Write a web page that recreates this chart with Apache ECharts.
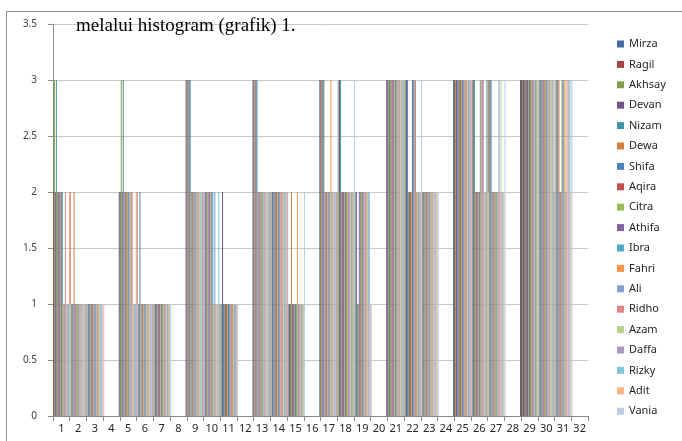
<!DOCTYPE html>
<html>
<head>
<meta charset="utf-8">
<script src="https://cdn.jsdelivr.net/npm/echarts@6/dist/echarts.min.js"></script>
<style>
  html, body { margin: 0; padding: 0; background: #fff; }
  #chart { width: 682px; height: 441px; }
</style>
</head>
<body>
<div id="chart"></div>
<script>
// kategori 1..32
var kategori = [];
for (var k = 1; k <= 32; k++) kategori.push(String(k));

var nama = ["Mirza", "Ragil", "Akhsay", "Devan", "Nizam", "Dewa", "Shifa", "Aqira", "Citra", "Athifa",
            "Ibra", "Fahri", "Ali", "Ridho", "Azam", "Daffa", "Rizky", "Adit", "Vania"];

var mirza  = [2,1,1,0,2,1,1,0,3,2,1,0,3,2,1,0,3,2,2,0,3,3,2,0,3,3,2,0,3,3,2,0];
var ragil  = [2,2,1,0,2,2,1,0,3,2,1,0,3,2,2,0,3,2,2,0,3,3,2,0,3,3,3,0,3,3,2,0];
var akhsay = [3,1,1,0,3,1,1,0,3,2,1,0,3,2,1,0,3,3,2,0,3,3,2,0,3,3,3,0,3,3,3,0];
var devan  = [2,1,1,0,2,1,1,0,3,2,2,0,3,2,1,0,3,3,2,0,3,3,2,0,3,3,3,0,3,3,3,0];
var nizam  = [3,1,1,0,3,2,1,0,3,2,1,0,3,2,1,0,3,3,1,0,3,3,2,0,3,3,3,0,3,3,3,0];
var dewa   = [2,2,1,0,2,1,1,0,2,2,1,0,2,2,2,0,2,2,1,0,3,2,2,0,3,2,2,0,3,3,3,0];
var shifa  = [2,1,1,0,2,1,1,0,2,2,1,0,2,2,1,0,2,2,2,0,3,2,2,0,3,2,2,0,3,3,2,0];
var aqira  = [2,1,1,0,2,1,1,0,2,2,1,0,2,2,1,0,2,2,2,0,3,2,2,0,3,2,2,0,3,3,2,0];
var citra  = [2,1,1,0,2,1,1,0,2,2,1,0,2,2,1,0,2,2,2,0,3,2,2,0,3,2,2,0,3,3,3,0];
var athifa = [2,1,1,0,2,1,1,0,2,2,1,0,2,2,1,0,2,2,2,0,3,3,2,0,3,2,2,0,3,3,3,0];
var ibra   = [2,1,1,0,2,1,1,0,2,2,1,0,2,2,1,0,2,2,2,0,3,3,2,0,3,3,2,0,3,3,3,0];
var fahri  = [1,1,1,0,2,1,1,0,2,1,1,0,2,2,2,0,3,2,2,0,3,3,2,0,3,3,2,0,3,3,3,0];
var ali    = [1,1,1,0,2,1,1,0,2,2,1,0,2,2,1,0,2,2,2,0,3,3,2,0,3,3,3,0,3,3,2,0];
var ridho  = [2,1,1,0,2,1,1,0,2,1,1,0,2,2,1,0,2,2,2,0,3,2,2,0,3,3,2,0,3,3,3,0];
var azam   = [1,1,1,0,1,1,1,0,2,1,1,0,2,2,1,0,2,2,2,0,3,2,2,0,3,2,3,0,3,3,3,0];
var daffa  = [1,1,1,0,1,1,1,0,2,1,1,0,2,2,1,0,2,2,2,0,3,2,2,0,3,2,2,0,3,3,3,0];
var rizky  = [1,1,1,0,1,1,1,0,2,2,1,0,2,2,1,0,2,2,2,0,3,2,2,0,3,3,2,0,3,3,3,0];
var adit   = [2,1,1,0,2,1,1,0,2,1,1,0,2,2,1,0,2,2,1,0,3,2,2,0,3,2,2,0,3,3,2,0];
var vania  = [1,1,1,0,1,1,1,0,2,1,1,0,2,2,2,0,3,3,1,0,3,3,2,0,3,2,3,0,3,3,3,0];

var nilai = [mirza, ragil, akhsay, devan, nizam, dewa, shifa, aqira, citra, athifa,
             ibra, fahri, ali, ridho, azam, daffa, rizky, adit, vania];

var warna = ["#436DA1", "#A34441", "#849F4C", "#6D558A", "#4092A8", "#D2803C",
             "#4F81BD", "#C0504D", "#9BBB59", "#8064A2", "#4BACC6", "#F79646",
             "#849FCD", "#D98A88", "#BAD08E", "#A898C0", "#81C4D8", "#F9B584", "#B9CCE4"];

var myChart = echarts.init(document.getElementById("chart"));

var series = [];
for (var i = 0; i < nama.length; i++) {
  series.push({
    name: nama[i],
    type: "bar",
    data: nilai[i],
    barGap: "0%",
    barCategoryGap: "10%",
    itemStyle: { color: warna[i] }
  });
}

var option = {
  animation: false,
  color: warna,
  graphic: [
    {
      type: "rect",
      shape: { x: 6.5, y: 11.5, width: 700, height: 450 },
      style: { fill: null, stroke: "#8c8c8c", lineWidth: 1 },
      z: 0
    },
    {
      type: "text",
      left: 76,
      top: 17,
      style: {
        text: "melalui histogram (grafik) 1.",
        font: "19px 'Liberation Serif', serif",
        fill: "#000"
      },
      z: 100
    }
  ],
  grid: { left: 53, right: 94, top: 24, bottom: 25, containLabel: false },
  legend: {
    orient: "vertical",
    left: 612,
    top: 32,
    itemWidth: 7,
    itemHeight: 7,
    itemGap: 6.4,
    icon: "rect",
    textStyle: { fontSize: 11, color: "#262626", lineHeight: 14, fontFamily: "'Noto Sans', sans-serif" },
    data: nama
  },
  xAxis: {
    type: "category",
    data: kategori,
    axisLine: { lineStyle: { color: "#8c8c8c" } },
    axisTick: { show: true, length: 5, lineStyle: { color: "#8c8c8c" } },
    axisLabel: { interval: 0, fontSize: 11, color: "#262626", margin: 7, fontFamily: "'Noto Sans', sans-serif" }
  },
  yAxis: {
    type: "value",
    min: 0,
    max: 3.5,
    interval: 0.5,
    axisLine: { show: true, lineStyle: { color: "#8c8c8c" } },
    axisTick: { show: true, length: 5, lineStyle: { color: "#8c8c8c" } },
    axisLabel: { fontSize: 10, color: "#404040", margin: 16, fontFamily: "'Noto Sans', sans-serif" },
    splitLine: { lineStyle: { color: "#c8c8c8" } }
  },
  series: series
};

myChart.setOption(option);
</script>
</body>
</html>
